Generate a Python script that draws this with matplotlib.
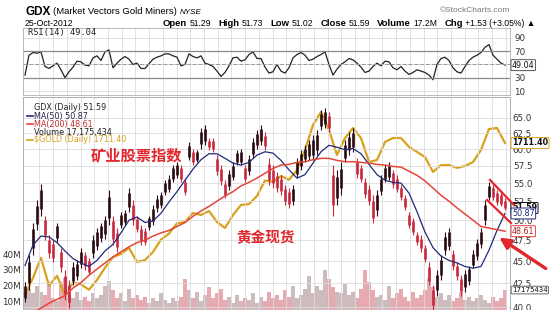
import matplotlib.pyplot as plt
import matplotlib.transforms as mtransforms
import numpy as np
from matplotlib.patches import FancyArrowPatch
from matplotlib.lines import Line2D
from matplotlib.ticker import FixedLocator, NullLocator, FormatStrFormatter

# ---- data (one sample ~ one week, Oct 2009 -> 25 Oct 2012) ----
price_hi = [42.7, 45.7, 49.7, 52.6, 54.8, 50.6, 48.1, 47.5, 49.7, 46.6,
            44.0, 42.9, 44.9, 45.1, 46.6, 46.1, 45.4, 48.1, 49.0, 49.7,
            50.6, 54.0, 50.6, 49.0, 51.1, 51.3, 54.3, 52.6, 50.6, 49.4,
            49.0, 50.6, 52.0, 53.3, 53.7, 55.4, 56.1, 57.6, 58.0, 57.6,
            55.7, 61.1, 60.1, 59.9, 63.3, 63.8, 61.7, 61.7, 59.1, 57.6,
            55.4, 56.9, 58.0, 59.9, 60.1, 57.6, 59.1, 61.7, 63.0, 63.8,
            62.7, 58.6, 57.6, 56.6, 56.1, 54.7, 54.3, 54.7, 58.6, 59.9,
            60.6, 61.4, 62.2, 63.0, 66.4, 66.7, 66.0, 57.6, 56.9, 58.0,
            61.4, 62.7, 63.3, 58.6, 57.6, 55.7, 54.7, 53.3, 54.0, 56.1,
            57.6, 58.0, 56.9, 56.1, 54.7, 53.3, 51.1, 50.3, 48.5, 48.1,
            46.9, 44.9, 42.3, 44.0, 45.7, 48.5, 49.0, 46.3, 44.9, 43.4,
            44.0, 44.5, 46.3, 47.7, 49.0, 52.6, 55.1, 54.7, 54.0, 53.7,
            52.9]
price_lo = [40.5, 41.8, 45.7, 48.7, 50.6, 47.5, 45.4, 44.9, 47.3, 43.8,
            40.7, 39.9, 42.3, 42.9, 44.2, 44.0, 43.4, 45.4, 46.3, 47.3,
            47.7, 49.4, 46.9, 46.1, 49.0, 49.4, 51.1, 49.4, 48.5, 46.9,
            46.9, 48.7, 49.4, 51.1, 51.6, 53.3, 53.7, 55.1, 55.7, 55.1,
            53.3, 58.3, 57.6, 58.0, 60.1, 60.6, 59.9, 59.6, 56.1, 54.7,
            52.9, 54.0, 55.4, 57.6, 57.6, 55.1, 56.1, 58.6, 60.1, 60.6,
            59.9, 54.7, 54.3, 53.7, 53.3, 52.0, 51.6, 52.0, 55.7, 56.9,
            58.0, 58.3, 58.3, 59.1, 63.0, 63.3, 62.7, 50.6, 52.0, 53.3,
            58.0, 59.1, 59.6, 55.7, 55.1, 52.9, 52.0, 49.6, 50.6, 53.3,
            55.1, 55.4, 54.3, 53.7, 52.6, 51.3, 49.0, 48.1, 46.9, 46.1,
            44.9, 42.3, 39.7, 41.2, 42.9, 45.7, 46.3, 44.0, 42.9, 41.2,
            41.6, 42.3, 44.2, 45.1, 46.6, 49.4, 52.6, 52.6, 52.0, 51.8,
            51.3]
volume_m = [12, 18, 15, 20, 16, 14, 22, 12, 10,
            22, 25, 14, 12, 16, 11, 13, 10, 15, 12,
            14, 20, 23, 17, 12, 15, 10, 18, 12, 14,
            11, 13, 9, 12, 10, 15, 11, 9, 12, 10,
            13, 24, 17, 12, 16, 10, 14, 19, 12, 15,
            18, 11, 13, 9, 14, 10, 12, 11, 15, 9,
            13, 10, 16, 12, 14, 11, 17, 13, 20, 12,
            14, 18, 26, 15, 20, 17, 30, 24, 19, 16,
            15, 21, 14, 16, 12, 18, 30, 22, 17, 13,
            14, 11, 20, 12, 15, 18, 13, 10, 16, 12,
            14, 17, 25, 19, 13, 15, 11, 14, 10, 12,
            16, 11, 13, 10, 12, 14, 11, 9, 13, 10, 12, 17.175434]
rsi = [34, 64, 68, 67, 69, 47, 44, 48, 52, 42,
       30, 39, 46, 55, 54, 49, 48, 60, 63, 56,
       69, 72, 45, 52, 58, 62, 58, 50, 52, 44,
       44, 51, 58, 61, 63, 66, 66, 63, 61, 48,
       50, 66, 62, 60, 63, 52, 50, 47, 40, 32,
       38, 48, 60, 61, 55, 57, 65, 69, 59, 59,
       46, 37, 39, 50, 40, 37, 45, 60, 65, 68,
       64, 56, 58, 62, 65, 69, 50, 34, 43, 50,
       54, 59, 57, 52, 46, 38, 40, 47, 52, 48,
       55, 54, 45, 42, 47, 40, 35, 38, 42, 40,
       38, 34, 27, 50, 59, 61, 56, 45, 39, 37,
       47, 56, 61, 64, 68, 76, 80, 64, 58, 52,
       49.04]
# every second sample
gold = [1031, 1091, 1167, 1063, 1099, 1031, 1075, 1068, 1049, 1084,
        1129, 1170, 1182, 1206, 1151, 1158, 1190, 1240, 1265, 1309,
        1315, 1355, 1346, 1364, 1315, 1289, 1346, 1392, 1396, 1434,
        1510, 1503, 1533, 1514, 1563, 1672, 1817, 1898, 1787, 1644,
        1740, 1799, 1740, 1606, 1617, 1717, 1740, 1740, 1689, 1661,
        1633, 1554, 1590, 1590, 1575, 1585, 1606, 1672, 1793, 1799,
        1711.40]
ma50 = [44.5, 46.9, 48.0, 47.9, 47.2, 46.2, 45.3, 44.8, 44.4, 45.1,
        46.2, 47.0, 48.4, 50.0, 50.4, 49.7, 49.9, 50.9, 52.4, 53.8,
        55.4, 57.0, 58.4, 59.3, 59.3, 58.6, 57.9, 57.6, 58.0, 59.1,
        59.6, 59.4, 58.3, 56.9, 55.7, 56.2, 57.9, 59.6, 60.6, 60.3,
        59.9, 60.1, 59.3, 57.7, 56.2, 55.4, 55.1, 55.0, 53.6, 51.1,
        48.5, 46.6, 45.6, 45.1, 44.8, 44.4, 44.2, 44.4, 46.3, 48.7,
        50.87]
ma200 = [39.4, 39.9, 40.4, 40.8, 41.2, 42.0, 42.6, 43.4, 44.1,
         44.8, 45.5, 46.1, 46.7, 47.2, 47.5, 48.0, 48.4, 48.7, 49.2,
         49.7, 50.5, 51.2, 51.8, 52.5, 53.2, 53.8, 54.6, 55.1, 55.7,
         56.4, 57.1, 57.6, 57.7, 58.0, 58.1, 58.4, 58.6, 58.6, 58.3,
         58.1, 58.1, 58.0, 57.9, 57.7, 57.6, 57.4, 57.3, 56.7, 56.1,
         55.3, 54.3, 53.3, 52.5, 51.6, 50.8, 50.0, 49.2, 49.0, 48.8,
         48.61]

price_ticks = [40.0, 42.5, 45.0, 47.5, 50.0, 52.5, 55.0, 57.5, 60.0, 62.5, 65.0]
vol_ticks = [10, 20, 30, 40]
rsi_ticks = [10, 30, 50, 70, 90]

W, H = 550, 310
GRID = '#dcdcdc'
BAR_UP, BAR_DN = '#2b0a12', '#c9283e'
NAVY, MA_RED, GOLD = '#1f2a7a', '#e4463a', '#d8a21c'
CN_RED = '#e3262b'


def fx(px):
    return px / W


def fy(py):
    return 1 - py / H


t = np.arange(len(price_hi))
t2 = np.arange(0, len(price_hi), 2)
hi = np.array(price_hi)
lo = np.array(price_lo)
mid = (hi + lo) / 2
up = np.r_[True, mid[1:] >= mid[:-1]]
bar_col = [BAR_UP if u else BAR_DN for u in up]
vol_col = ['#cdbbbd' if u else '#e8aab1' for u in up]
month_lines = np.arange(3.6, 121, 3.43)
xlim = (-0.5, 121.25)

fig = plt.figure(figsize=(W / 100, H / 100), dpi=100)
fig.patch.set_facecolor('white')
renderer = fig.canvas.get_renderer()

# ---------------- RSI panel ----------------
ax_rsi = fig.add_axes([fx(23), fy(95), fx(487), 67 / H])
ax_rsi.set_xlim(*xlim)
ax_rsi.set_ylim(4, 105)
ax_rsi.plot(t, rsi, color='#222222', lw=0.9)
ax_rsi.axhline(70, color='#8a8a8a', lw=0.9)
ax_rsi.axhline(30, color='#8a8a8a', lw=0.9)
ax_rsi.axhline(50, color='#9a9a9a', lw=0.7, dashes=(4, 2))
ax_rsi.set_xticks(month_lines)
ax_rsi.set_yticks(rsi_ticks)
ax_rsi.yaxis.tick_right()
ax_rsi.set_yticklabels(['10', '30', '', '70', '90'])
ax_rsi.tick_params(length=0, labelsize=6.3, pad=3, labelbottom=False, colors='#333333')
ax_rsi.grid(color=GRID, lw=0.6)
ax_rsi.set_axisbelow(True)
for s in ax_rsi.spines.values():
    s.set_color('#b0b0b0')
    s.set_linewidth(0.6)

# ---------------- main panel ----------------
rect = [fx(23), fy(312), fx(487), 215 / H]
ax = fig.add_axes(rect)
ax_vol = ax.twinx()
ax_gold = ax.twinx()
ax_vol.set_zorder(1)
ax_gold.set_zorder(2)
ax.set_zorder(3)
ax.patch.set_visible(False)
ax_gold.patch.set_visible(False)
ax_vol.patch.set_facecolor('white')

# volume
ax_vol.bar(t, volume_m, width=0.9, color=vol_col, linewidth=0)
ax_vol.set_ylim(3.2, 140)
ax_vol.set_yticks(vol_ticks)
ax_vol.set_yticklabels([f'{v}M' for v in vol_ticks])
ax_vol.yaxis.tick_left()
ax_vol.tick_params(length=0, labelsize=6.3, pad=1.5, colors='#333333')

# gold
ax_gold.set_yscale('log')
ax_gold.plot(t2, gold, color=GOLD, lw=1.6)
ax_gold.set_ylim(974, 1995)
ax_gold.yaxis.set_major_locator(NullLocator())
ax_gold.yaxis.set_minor_locator(NullLocator())

# price
ax.set_yscale('log')
ax.set_xlim(*xlim)
ax.set_ylim(39.5, 68.6)
ax.vlines(t, lo, hi, colors=bar_col, lw=0.8)
ax.vlines(t, lo + 0.2 * (hi - lo), hi - 0.2 * (hi - lo), colors=bar_col, lw=1.9)
ax.plot(t2, ma50, color=NAVY, lw=0.9)
ax.plot(t2[1:], ma200, color=MA_RED, lw=1.1)
ax.yaxis.set_major_locator(FixedLocator(price_ticks))
ax.yaxis.set_minor_locator(NullLocator())
ax.yaxis.set_major_formatter(FormatStrFormatter('%.1f'))
ax.yaxis.tick_right()
ax.set_xticks(month_lines)
ax.tick_params(length=0, labelsize=6.3, pad=2, labelbottom=False, colors='#333333')
ax.grid(color=GRID, lw=0.6)
ax.set_axisbelow(True)
for a in (ax, ax_vol, ax_gold):
    for s in a.spines.values():
        s.set_color('#b0b0b0')
        s.set_linewidth(0.6)


# last-value tags
def tag(axis, value, text, ec, tc='#111111', bold=False, size=5.8):
    tr = mtransforms.blended_transform_factory(axis.transAxes, axis.transData)
    fig.text(1.004, value, text, transform=tr, fontsize=size, color=tc, va='center',
             ha='left', weight='bold' if bold else 'normal', zorder=10,
             bbox=dict(boxstyle='round,pad=0.12', fc='white', ec=ec, lw=0.7))


tag(ax_rsi, rsi[-1], '49.04', '#555555')
tag(ax_gold, gold[-1], '1711.40', GOLD, bold=True)
tag(ax, 51.59, '51.59', '#111111', bold=True)
tag(ax, ma50[-1], '50.87', NAVY, tc=NAVY)
tag(ax, ma200[-1], '48.61', MA_RED, tc='#b02020')
tag(ax_vol, volume_m[-1], '17175434', '#666666', size=5.0)


def text_row(pieces, x0, y):
    # place text pieces one after another, gap in pixels after each
    x = x0
    for txt, kw, gap in pieces:
        tt = fig.text(fx(x), fy(y), txt, va='center', **kw)
        x += tt.get_window_extent(renderer=renderer).width + gap


# ---------------- header ----------------
HF = ['Liberation Sans', 'DejaVu Sans']
B = dict(family=HF, fontsize=6.8, weight='bold')
N = dict(family=HF, fontsize=6.2)
text_row([('GDX', dict(family=HF, fontsize=8.5, weight='bold'), 3),
          ('(Market Vectors Gold Miners)', dict(family=HF, fontsize=6.8), 3),
          ('NYSE', dict(family=HF, fontsize=5.8, style='italic'), 0)], 25, 12)
fig.text(fx(25), fy(23), '25-Oct-2012', family=HF, fontsize=6.3, va='center')
fig.text(fx(510), fy(11), '©StockCharts.com', family=HF, fontsize=6, color='#777777',
         va='center', ha='right')
text_row([('Open', B, 2.5), ('51.29', N, 7), ('High', B, 2.5), ('51.73', N, 7),
          ('Low', B, 2.5), ('51.02', N, 7), ('Close', B, 2.5), ('51.59', N, 7),
          ('Volume', B, 2.5), ('17.2M', N, 7), ('Chg', B, 2.5),
          ('+1.53 (+3.05%) ▲', N, 0)], 163, 23)

fig.text(fx(28), fy(33), 'RSI(14) 49.04', family='DejaVu Sans Mono', fontsize=6.2,
         va='center', color='#222222')

# legend block in main panel
legend = [('GDX (Daily) 51.59', '#222222', None),
          ('MA(50) 50.87', '#222244', NAVY),
          ('MA(200) 48.61', '#c03030', MA_RED),
          ('Volume 17,175,434', '#222222', None),
          ('\\$GOLD (Daily) 1711.40', GOLD, GOLD)]
for i, (txt, col, dash) in enumerate(legend):
    yy = 108 + 8 * i
    if dash:
        fig.add_artist(Line2D([fx(27), fx(33)], [fy(yy), fy(yy)], color=dash, lw=1.2))
    fig.text(fx(34), fy(yy), txt, fontsize=5.8, color=col, va='center')

# Chinese annotations
CN = ['Noto Sans CJK SC', 'DejaVu Sans']
fig.text(fx(136), fy(155), '矿业股票指数', family=CN, weight='bold', fontsize=11,
         color=CN_RED, ha='center', va='center', zorder=10)
fig.text(fx(266), fy(237), '黄金现货', family=CN, weight='bold', fontsize=10.5,
         color=CN_RED, ha='center', va='center', zorder=10)

# channel lines and arrow
for (x0, y0, x1, y1) in [(490, 180, 514, 205), (487, 200, 511, 223)]:
    fig.add_artist(Line2D([fx(x0), fx(x1)], [fy(y0), fy(y1)], color=CN_RED, lw=1.6, zorder=11))
fig.add_artist(FancyArrowPatch((fx(548), fy(270)), (fx(497), fy(236)), transform=fig.transFigure,
                               arrowstyle='-|>', mutation_scale=16, lw=2.4, color=CN_RED, zorder=11))

fig.savefig('out.png', dpi=100)
